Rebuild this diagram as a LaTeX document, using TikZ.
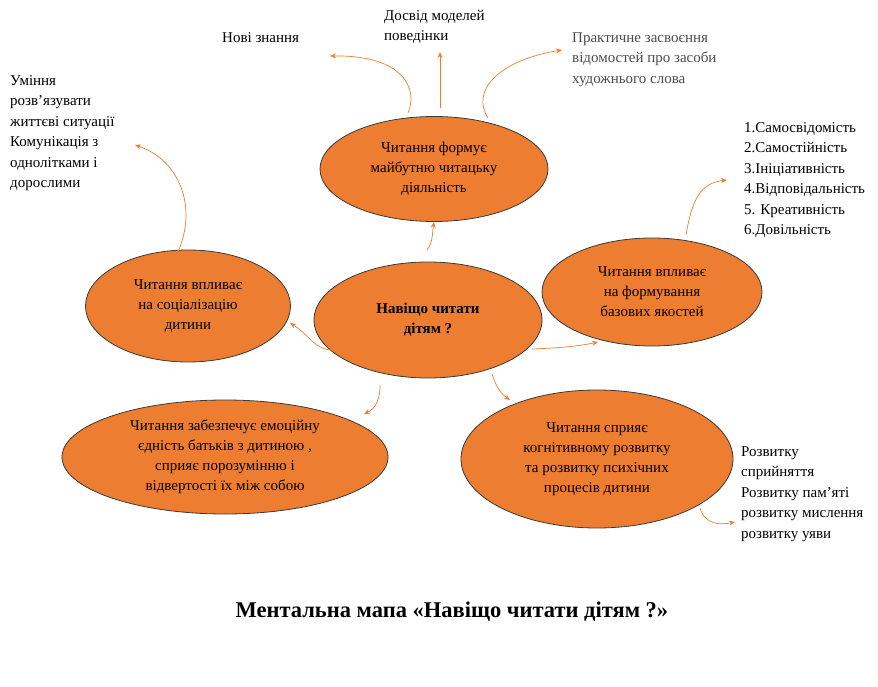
\documentclass[tikz,border=0pt]{standalone}
\usepackage{fontspec}
\setmainfont{Liberation Serif}
\usetikzlibrary{shapes.geometric,arrows.meta}
\definecolor{org}{HTML}{ED7D31}
\definecolor{edge}{HTML}{3A3A3A}
\begin{document}
\begin{tikzpicture}[x=1pt,y=-1pt,
  bub/.style={ellipse,draw=edge,line width=0.8pt,fill=org,inner sep=0pt,align=center,font=\fontsize{15}{20}\selectfont},
  lbl/.style={align=left,anchor=north west,inner sep=0pt,font=\fontsize{15}{20.5}\selectfont},
  con/.style={draw=org,line width=0.7pt,-{Stealth[length=6pt,width=5pt]}}]
\useasboundingbox (0,0) rectangle (878,687);
\node[bub,minimum width=228pt,minimum height=116pt] (c) at (428,320) {\textbf{Навіщо читати}\\\textbf{дітям ?}};
\node[bub,minimum width=228pt,minimum height=105pt] (t) at (434,169) {Читання формує\\майбутню читацьку\\діяльність};
\node[bub,minimum width=205pt,minimum height=112pt] (l) at (188,306) {Читання впливає\\на соціалізацію\\дитини};
\node[bub,minimum width=220pt,minimum height=108pt] (r) at (652,292) {Читання впливає\\на формування\\базових якостей};
\node[bub,minimum width=326pt,minimum height=114pt] (bl) at (225,457) {Читання забезпечує емоційну\\єдність батьків з дитиною ,\\сприяє порозумінню і\\відвертості їх між собою};
\node[bub,minimum width=272pt,minimum height=138pt] (br) at (597,459) {Читання сприяє\\когнітивному розвитку\\та розвитку психічних\\процесів дитини};
\node[lbl] (n1) at (222,32) {Нові знання};
\node[lbl] (n2) at (384,10) {Досвід моделей\\поведінки};
\node[lbl,text=black!70] (n3) at (572,32) {Практичне засвоєння\\відомостей про засоби\\художнього слова};
\node[lbl] (n4) at (10,75) {Уміння\\розв’язувати\\життєві ситуації\\Комунікація з\\однолітками і\\дорослими};
\node[lbl] (n5) at (744,122) {1.Самосвідомість\\2.Самостійність\\3.Ініціативність\\4.Відповідальність\\5. Креативність\\6.Довільність};
\node[lbl] (n6) at (741,446) {Розвитку\\сприйняття\\Розвитку пам’яті\\розвитку мислення\\розвитку уяви};
\node[font=\bfseries\fontsize{22.5}{26}\selectfont] (ttl) at (452,612) {Ментальна мапа «Навіщо читати дітям ?»};
\coordinate (a1) at (330,56); \coordinate (a2) at (440,52); \coordinate (a3) at (562,50);
\coordinate (a4) at (135,145); \coordinate (a6) at (727,180); \coordinate (a11) at (735,522);
\coordinate (a7) at (598,342); \coordinate (a8) at (290,323);
\draw[con] (408,113) .. controls (418,90) and (405,55) .. (a1);
\draw[con] (440,108) -- (a2);
\draw[con] (488,118) .. controls (470,90) and (500,60) .. (a3);
\draw[con] (175,258) .. controls (200,210) and (180,160) .. (a4);
\draw[con] (427,250) .. controls (433,242) and (432,235) .. (t.south);
\draw[con] (686,235) .. controls (692,200) and (700,183) .. (a6);
\draw[con] (532,349) .. controls (560,348) and (580,346) .. (a7);
\draw[con] (337,350) .. controls (315,352) and (310,335) .. (a8);
\draw[con] (380,385) .. controls (380,405) and (372,410) .. (364,414);
\draw[con] (492,374) .. controls (497,390) and (503,395) .. (510,400);
\draw[con] (700,508) .. controls (705,525) and (720,525) .. (a11);
\end{tikzpicture}
\end{document}
